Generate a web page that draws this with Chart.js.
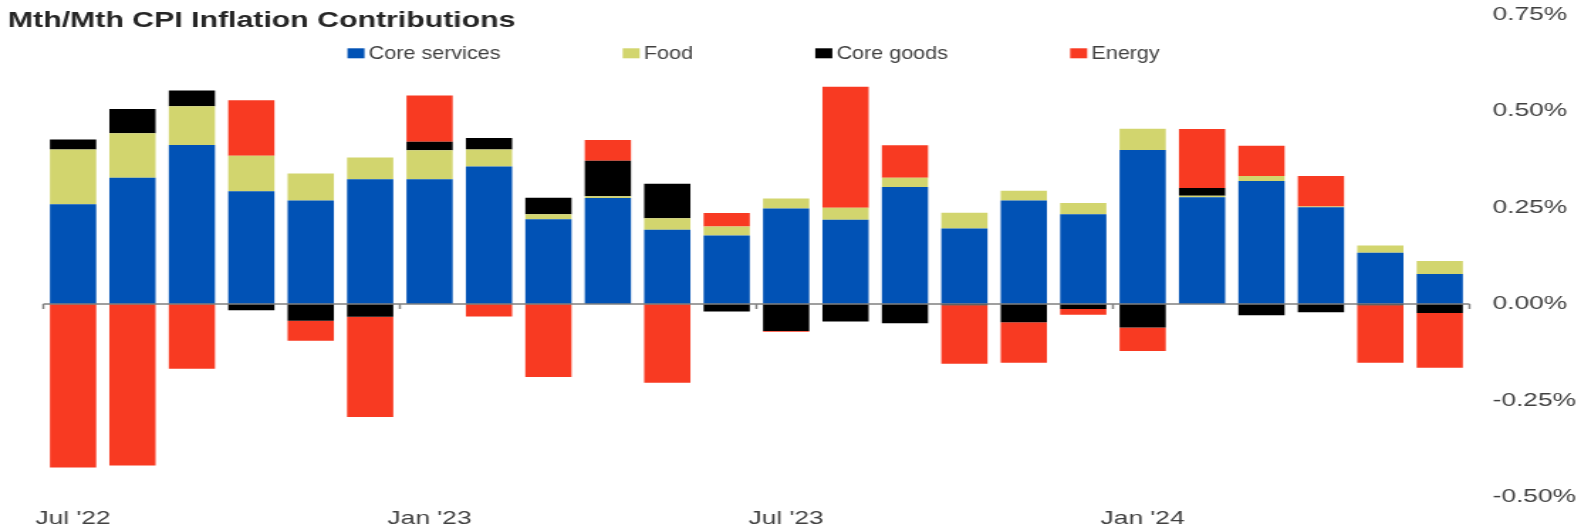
<!DOCTYPE html>
<html>
<head>
<meta charset="utf-8">
<script src="https://cdn.jsdelivr.net/npm/chart.js@4.4.1/dist/chart.umd.min.js"></script>
<style>
  html, body { margin: 0; padding: 0; background: #fff; overflow: hidden; }
  /* chart is laid out narrow and stretched sideways to the page width */
  #wrap { width: 1113px; height: 529px; transform: scaleX(1.4205); transform-origin: 0 0; }
</style>
</head>
<body>
<div id="wrap"><canvas id="chart"></canvas></div>
<script>
var titleText = 'Mth/Mth CPI Inflation Contributions';

var months = ["Jul '22", "Aug '22", "Sep '22", "Oct '22", "Nov '22", "Dec '22",
              "Jan '23", "Feb '23", "Mar '23", "Apr '23", "May '23", "Jun '23",
              "Jul '23", "Aug '23", "Sep '23", "Oct '23", "Nov '23", "Dec '23",
              "Jan '24", "Feb '24", "Mar '24", "Apr '24", "May '24", "Jun '24"];

// contributions, percentage points
var coreServices = [0.259, 0.328, 0.413, 0.293, 0.269, 0.324, 0.324, 0.357, 0.220, 0.275, 0.193, 0.178,
                    0.248, 0.219, 0.304, 0.196, 0.269, 0.233, 0.400, 0.277, 0.319, 0.251, 0.133, 0.078];
var food = [0.142, 0.115, 0.100, 0.092, 0.070, 0.056, 0.075, 0.044, 0.013, 0.005, 0.030, 0.023,
            0.026, 0.031, 0.024, 0.041, 0.025, 0.029, 0.055, 0.004, 0.013, 0.002, 0.019, 0.034];
var coreGoods = [0.026, 0.063, 0.041, -0.016, -0.043, -0.033, 0.022, 0.030, 0.043, 0.092, 0.089, -0.019,
                 -0.070, -0.045, -0.050, -0.003, -0.047, -0.013, -0.061, 0.020, -0.029, -0.021, -0.003, -0.023];
var energy = [-0.424, -0.419, -0.168, 0.144, -0.052, -0.260, 0.120, -0.032, -0.189, 0.054, -0.204, 0.035,
              -0.002, 0.314, 0.084, -0.152, -0.105, -0.015, -0.061, 0.153, 0.079, 0.079, -0.149, -0.142];

var yTicks = [-0.5, -0.25, 0, 0.25, 0.5, 0.75];

Chart.defaults.font.family = '"Liberation Sans", Arial, sans-serif';
Chart.defaults.color = '#404040';

// title, legend row and the zero line with its half-year ticks
var extras = {
  id: 'extras',
  afterDatasetsDraw: function(chart) {
    var ctx = chart.ctx;
    var area = chart.chartArea;
    var xs = chart.scales.x;
    var y0 = chart.scales.y.getPixelForValue(0);

    ctx.save();
    ctx.strokeStyle = '#808080';
    ctx.lineWidth = 1.5;
    ctx.beginPath();
    ctx.moveTo(area.left, y0);
    ctx.lineTo(area.right, y0);
    for (var i = 0; i <= months.length; i += 6) {
      var px = xs.getPixelForValue(i - 0.5);
      ctx.moveTo(px, y0);
      ctx.lineTo(px, y0 + 5);
    }
    ctx.stroke();

    ctx.fillStyle = '#262626';
    ctx.font = 'bold 21.3px "Liberation Sans", Arial, sans-serif';
    ctx.textBaseline = 'alphabetic';
    ctx.fillText(titleText, 5.6, 26.5);

    // legend: condensed labels in one row
    var narrow = 0.82, box = 12, gap = 3, spacing = 86;
    ctx.font = '18.5px "Liberation Sans", Arial, sans-serif';
    var sets = chart.data.datasets;
    var widths = sets.map(function(d) { return ctx.measureText(d.label).width * narrow; });
    var total = spacing * (sets.length - 1);
    widths.forEach(function(w) { total += box + gap + w; });
    var lx = (area.left + area.right) / 2 - total / 2 - 2;
    sets.forEach(function(d, k) {
      ctx.fillStyle = d.backgroundColor;
      ctx.fillRect(lx, 48.3, box, 10);
      ctx.save();
      ctx.translate(lx + box + gap, 59);
      ctx.scale(narrow, 1);
      ctx.fillStyle = '#404040';
      ctx.fillText(d.label, 0, 0);
      ctx.restore();
      lx += box + gap + widths[k] + spacing;
    });
    ctx.restore();
  }
};

new Chart(document.getElementById('chart'), {
  type: 'bar',
  data: {
    labels: months,
    datasets: [
      { label: 'Core services', data: coreServices, backgroundColor: '#0152B5' },
      { label: 'Food', data: food, backgroundColor: '#D2D56E' },
      { label: 'Core goods', data: coreGoods, backgroundColor: '#000000' },
      { label: 'Energy', data: energy, backgroundColor: '#F83A22' }
    ]
  },
  options: {
    responsive: true,
    maintainAspectRatio: false,
    animation: false,
    layout: { padding: { left: 30.5, right: -12.7, top: 15, bottom: -12 } },
    datasets: { bar: { categoryPercentage: 1, barPercentage: 0.778, borderWidth: 0 } },
    plugins: {
      legend: { display: false },
      title: { display: false },
      tooltip: { enabled: false }
    },
    scales: {
      x: {
        stacked: true,
        grid: { display: false, drawTicks: false },
        border: { display: false },
        ticks: {
          autoSkip: false, maxRotation: 0, minRotation: 0, padding: 11,
          font: { size: 18.5 },
          callback: function(v, i) { return i % 6 === 0 ? months[i] : ''; }
        }
      },
      y: {
        stacked: true,
        position: 'right',
        min: -0.5,
        max: 0.75,
        grid: { display: false, drawTicks: false },
        border: { display: false },
        afterBuildTicks: function(axis) {
          axis.ticks = yTicks.map(function(v) { return { value: v }; });
        },
        // let the end labels hang over the plot edges
        afterFit: function(axis) {
          axis.paddingTop = 0;
          axis.paddingBottom = 0;
        },
        ticks: {
          padding: 16.3,
          font: { size: 18.5 },
          callback: function(v) { return v.toFixed(2) + '%'; }
        }
      }
    }
  },
  plugins: [extras]
});
</script>
</body>
</html>
